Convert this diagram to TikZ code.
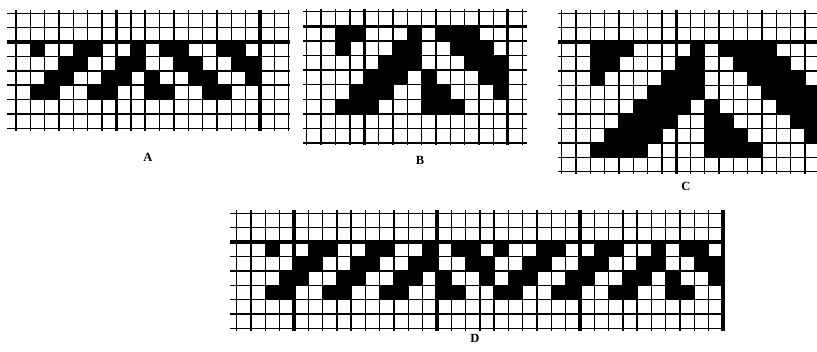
\documentclass[tikz,border=0pt]{standalone}
\usepackage{fontspec}
\setmainfont{Liberation Serif}
\usepackage{tikz}
\begin{document}
\begin{tikzpicture}[x=1pt,y=-1pt,
  gridline/.style={line width=1.4pt},
  heavyline/.style={line width=3.2pt},
  cellfill/.style={fill=black},
  caplabel/.style={font=\fontsize{12.5}{14}\selectfont\bfseries, inner sep=0pt}]
  \useasboundingbox (0,0) rectangle (817,352);

  % grid A: 19 x 8 cells
  \begin{scope}[shift={(16pt,-13.3pt)},x=14.35pt,y=-14.38pt]
    \foreach \r/\cols in {2/{1,4,5,8,10,11,14,15}, 3/{3,4,7,8,11,12,15,16},
                          4/{2,3,6,7,9,12,13,16}, 5/{1,2,5,6,9,10,13,14}}
      \foreach \c in \cols
        \fill[cellfill] (\c,\r) rectangle ++(1,1);
    \foreach \j in {0,...,8}
      \draw[gridline] (-0.63,\j) -- (19.1,\j);
    \foreach \k in {0,...,19}
      \draw[gridline] (\k,-0.23) -- (\k,8.2);
    \draw[heavyline] (-0.63,2) -- (19.1,2);
    \foreach \k in {7,17}
      \draw[heavyline] (\k,-0.23) -- (\k,8.2);
  \end{scope}
  \node[caplabel] (labA) at (148,157) {A};

  % grid B: 15 x 9 cells
  \begin{scope}[shift={(306.7pt,-11.7pt)},x=14.37pt,y=-14.6pt]
    \foreach \r/\cols in {1/{2,3,7,9,10,11}, 2/{2,6,7,10,11,12}, 3/{5,6,7,11,12,13},
                          4/{4,5,6,8,12,13}, 5/{3,4,5,8,9,13}, 6/{2,3,4,8,9,10}}
      \foreach \c in \cols
        \fill[cellfill] (\c,\r) rectangle ++(1,1);
    \foreach \j in {0,...,9}
      \draw[gridline] (-0.26,\j) -- (15.3,\j);
    \foreach \k in {0,...,15}
      \draw[gridline] (\k,-0.18) -- (\k,9.13);
    \draw[heavyline] (-0.26,1) -- (15.3,1);
    \foreach \k in {4,14}
      \draw[heavyline] (\k,-0.18) -- (\k,9.13);
  \end{scope}
  \node[caplabel] (labB) at (420,160) {B};

  % grid C: 18 x 11 cells, cut at the right edge
  \begin{scope}[shift={(561.7pt,-13.3pt)},x=14.3pt,y=-14.4pt]
    \foreach \r/\cols in {2/{2,3,4,9,11,12,13,14}, 3/{2,3,8,9,12,13,14,15},
                          4/{2,7,8,9,13,14,15,16}, 5/{6,7,8,9,14,15,16,17},
                          6/{5,6,7,8,10,15,16,17}, 7/{4,5,6,7,10,11,16,17},
                          8/{3,4,5,6,10,11,12,17}, 9/{2,3,4,5,10,11,12,13}}
      \foreach \c in \cols
        \fill[cellfill] (\c,\r) rectangle ++(1,1);
    \foreach \j in {0,...,11}
      \draw[gridline] (-0.26,\j) -- (18,\j);
    \foreach \k in {0,...,18}
      \draw[gridline] (\k,-0.23) -- (\k,11.17);
    \draw[heavyline] (-0.26,2) -- (18,2);
    \draw[heavyline] (8,-0.23) -- (8,11.17);
  \end{scope}
  \node[caplabel] (labC) at (686,186) {C};

  % grid D: 34 x 8 cells
  \begin{scope}[shift={(236.7pt,-213.3pt)},x=14.3pt,y=-14.4pt]
    \foreach \r/\cols in {2/{2,5,6,9,10,13,15,16,18,21,22,25,26,29,31,32},
                          3/{4,5,8,9,12,13,16,17,20,21,24,25,28,29,32,33},
                          4/{3,4,7,8,11,12,14,17,19,20,23,24,27,28,30,33},
                          5/{2,3,6,7,10,11,14,15,18,19,22,23,26,27,30,31}}
      \foreach \c in \cols
        \fill[cellfill] (\c,\r) rectangle ++(1,1);
    \foreach \j in {0,...,8}
      \draw[gridline] (-0.47,\j) -- (34.15,\j);
    \foreach \k in {0,...,34}
      \draw[gridline] (\k,-0.23) -- (\k,8.2);
    \draw[heavyline] (-0.47,2) -- (34.15,2);
    \foreach \k in {4,14,24,34}
      \draw[heavyline] (\k,-0.23) -- (\k,8.2);
  \end{scope}
  \node[caplabel] (labD) at (475,338) {D};
\end{tikzpicture}
\end{document}
